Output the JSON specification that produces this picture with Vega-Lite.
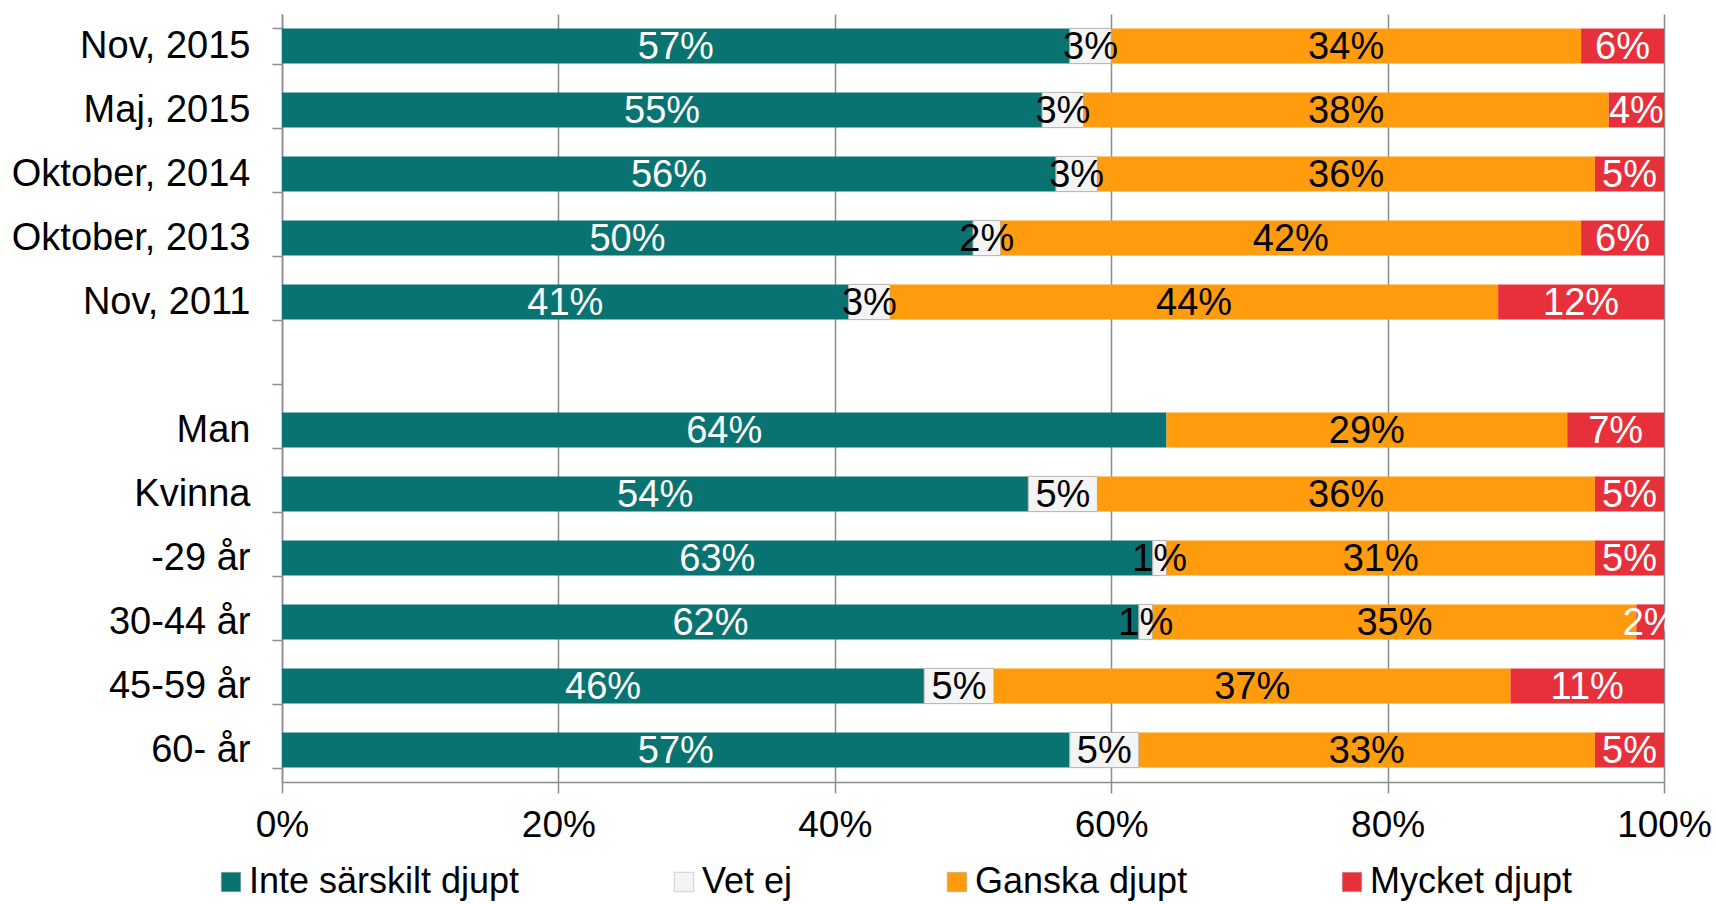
{
  "$schema": "https://vega.github.io/schema/vega-lite/v6.json",
  "autosize": "none",
  "width": 1382,
  "height": 768,
  "padding": {"left": 282, "top": 14, "right": 52, "bottom": 122},
  "background": "white",
  "config": {
    "font": "Liberation Sans",
    "view": {"stroke": null}
  },
  "data": {
    "values": [
      {"group": "Nov, 2015", "cat": "Inte särskilt djupt", "ord": 1, "value": 57, "label": "57%"},
      {"group": "Nov, 2015", "cat": "Vet ej", "ord": 2, "value": 3, "label": "3%"},
      {"group": "Nov, 2015", "cat": "Ganska djupt", "ord": 3, "value": 34, "label": "34%"},
      {"group": "Nov, 2015", "cat": "Mycket djupt", "ord": 4, "value": 6, "label": "6%"},
      {"group": "Maj, 2015", "cat": "Inte särskilt djupt", "ord": 1, "value": 55, "label": "55%"},
      {"group": "Maj, 2015", "cat": "Vet ej", "ord": 2, "value": 3, "label": "3%"},
      {"group": "Maj, 2015", "cat": "Ganska djupt", "ord": 3, "value": 38, "label": "38%"},
      {"group": "Maj, 2015", "cat": "Mycket djupt", "ord": 4, "value": 4, "label": "4%"},
      {"group": "Oktober, 2014", "cat": "Inte särskilt djupt", "ord": 1, "value": 56, "label": "56%"},
      {"group": "Oktober, 2014", "cat": "Vet ej", "ord": 2, "value": 3, "label": "3%"},
      {"group": "Oktober, 2014", "cat": "Ganska djupt", "ord": 3, "value": 36, "label": "36%"},
      {"group": "Oktober, 2014", "cat": "Mycket djupt", "ord": 4, "value": 5, "label": "5%"},
      {"group": "Oktober, 2013", "cat": "Inte särskilt djupt", "ord": 1, "value": 50, "label": "50%"},
      {"group": "Oktober, 2013", "cat": "Vet ej", "ord": 2, "value": 2, "label": "2%"},
      {"group": "Oktober, 2013", "cat": "Ganska djupt", "ord": 3, "value": 42, "label": "42%"},
      {"group": "Oktober, 2013", "cat": "Mycket djupt", "ord": 4, "value": 6, "label": "6%"},
      {"group": "Nov, 2011", "cat": "Inte särskilt djupt", "ord": 1, "value": 41, "label": "41%"},
      {"group": "Nov, 2011", "cat": "Vet ej", "ord": 2, "value": 3, "label": "3%"},
      {"group": "Nov, 2011", "cat": "Ganska djupt", "ord": 3, "value": 44, "label": "44%"},
      {"group": "Nov, 2011", "cat": "Mycket djupt", "ord": 4, "value": 12, "label": "12%"},
      {"group": "Man", "cat": "Inte särskilt djupt", "ord": 1, "value": 64, "label": "64%"},
      {"group": "Man", "cat": "Ganska djupt", "ord": 3, "value": 29, "label": "29%"},
      {"group": "Man", "cat": "Mycket djupt", "ord": 4, "value": 7, "label": "7%"},
      {"group": "Kvinna", "cat": "Inte särskilt djupt", "ord": 1, "value": 54, "label": "54%"},
      {"group": "Kvinna", "cat": "Vet ej", "ord": 2, "value": 5, "label": "5%"},
      {"group": "Kvinna", "cat": "Ganska djupt", "ord": 3, "value": 36, "label": "36%"},
      {"group": "Kvinna", "cat": "Mycket djupt", "ord": 4, "value": 5, "label": "5%"},
      {"group": "-29 år", "cat": "Inte särskilt djupt", "ord": 1, "value": 63, "label": "63%"},
      {"group": "-29 år", "cat": "Vet ej", "ord": 2, "value": 1, "label": "1%"},
      {"group": "-29 år", "cat": "Ganska djupt", "ord": 3, "value": 31, "label": "31%"},
      {"group": "-29 år", "cat": "Mycket djupt", "ord": 4, "value": 5, "label": "5%"},
      {"group": "30-44 år", "cat": "Inte särskilt djupt", "ord": 1, "value": 62, "label": "62%"},
      {"group": "30-44 år", "cat": "Vet ej", "ord": 2, "value": 1, "label": "1%"},
      {"group": "30-44 år", "cat": "Ganska djupt", "ord": 3, "value": 35, "label": "35%"},
      {"group": "30-44 år", "cat": "Mycket djupt", "ord": 4, "value": 2, "label": "2%"},
      {"group": "45-59 år", "cat": "Inte särskilt djupt", "ord": 1, "value": 46, "label": "46%"},
      {"group": "45-59 år", "cat": "Vet ej", "ord": 2, "value": 5, "label": "5%"},
      {"group": "45-59 år", "cat": "Ganska djupt", "ord": 3, "value": 37, "label": "37%"},
      {"group": "45-59 år", "cat": "Mycket djupt", "ord": 4, "value": 11, "label": "11%"},
      {"group": "60- år", "cat": "Inte särskilt djupt", "ord": 1, "value": 57, "label": "57%"},
      {"group": "60- år", "cat": "Vet ej", "ord": 2, "value": 5, "label": "5%"},
      {"group": "60- år", "cat": "Ganska djupt", "ord": 3, "value": 33, "label": "33%"},
      {"group": "60- år", "cat": "Mycket djupt", "ord": 4, "value": 5, "label": "5%"}
    ]
  },
  "encoding": {
    "y": {
      "field": "group",
      "type": "nominal",
      "scale": {
        "domain": ["Nov, 2015", "Maj, 2015", "Oktober, 2014", "Oktober, 2013", "Nov, 2011", " ", "Man", "Kvinna", "-29 år", "30-44 år", "45-59 år", "60- år"],
        "paddingInner": 0.45,
        "paddingOuter": 0.225
      },
      "axis": {
        "title": null,
        "tickBand": "extent",
        "domainColor": "#8c8c8c",
        "domainWidth": 1.5,
        "tickColor": "#8c8c8c",
        "tickWidth": 1.5,
        "tickSize": 10,
        "labelPadding": 22,
        "labelFontSize": 38,
        "labelLimit": 600,
        "labelColor": "#000000",
        "labelFont": "Liberation Sans",
        "grid": false
      }
    },
    "x": {
      "field": "value",
      "type": "quantitative",
      "stack": "normalize",
      "scale": {"domain": [0, 1]},
      "axis": {
        "title": null,
        "format": ".0%",
        "values": [0, 0.2, 0.4, 0.6, 0.8, 1],
        "grid": true,
        "gridColor": "#8c8c8c",
        "gridWidth": 1.5,
        "domainColor": "#8c8c8c",
        "domainWidth": 1.5,
        "tickColor": "#8c8c8c",
        "tickWidth": 1.5,
        "tickSize": 11,
        "labelPadding": 14,
        "labelFontSize": 37,
        "labelColor": "#000000",
        "labelFont": "Liberation Sans",
        "labelFlush": false
      }
    },
    "order": {"field": "ord", "type": "quantitative"}
  },
  "layer": [
    {
      "mark": {"type": "bar", "strokeWidth": 1},
      "encoding": {
        "color": {
          "field": "cat",
          "type": "nominal",
          "scale": {
            "domain": ["Inte särskilt djupt", "Vet ej", "Ganska djupt", "Mycket djupt"],
            "range": ["#087370", "#f4f4f4", "#fe9c0e", "#e8303a"]
          },
          "legend": {
            "title": null,
            "orient": "none",
            "direction": "horizontal",
            "legendX": -69,
            "legendY": 850,
            "symbolType": "square",
            "symbolSize": 380,
            "symbolOpacity": 1,
            "symbolStrokeColor": "#a6a6a6",
            "symbolStrokeWidth": 0.5,
            "labelFontSize": 36,
            "labelFont": "Liberation Sans",
            "labelColor": "#000000",
            "labelOffset": 0,
            "columnPadding": 146,
            "labelLimit": 600
          }
        },
        "stroke": {
          "condition": {"test": "datum.cat === 'Vet ej'", "value": "#b3b3b3"},
          "value": null
        }
      }
    },
    {
      "mark": {"type": "text", "fontSize": 38, "font": "Liberation Sans", "baseline": "middle", "align": "center", "dy": 2},
      "encoding": {
        "x": {"field": "value", "type": "quantitative", "stack": "normalize", "bandPosition": 0.5},
        "text": {"field": "label", "type": "nominal"},
        "color": {
          "field": "cat",
          "type": "nominal",
          "scale": {
            "domain": ["Inte särskilt djupt", "Vet ej", "Ganska djupt", "Mycket djupt"],
            "range": ["#ffffff", "#000000", "#000000", "#ffffff"]
          },
          "legend": null
        }
      }
    }
  ],
  "resolve": {"scale": {"color": "independent"}}
}
